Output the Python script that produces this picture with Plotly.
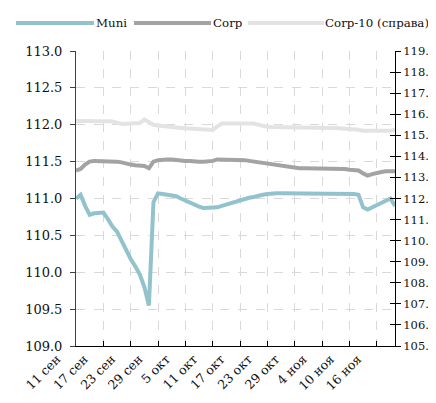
import pandas as pd
import plotly.graph_objects as go

# ---- data ----
start_date = "2013-09-11"
n_days = 71
dates = pd.date_range(start_date, periods=n_days, freq="D")

muni = [111.00, 111.05, 110.90, 110.78, 110.80, 110.80, 110.81, 110.72, 110.62, 110.55,
        110.42, 110.30, 110.18, 110.08, 109.97, 109.80, 109.55, 110.95, 111.07, 111.06,
        111.05, 111.04, 111.03, 111.00, 110.97, 110.94, 110.91, 110.89, 110.87, 110.87,
        110.87, 110.88, 110.90, 110.92, 110.94, 110.96, 110.97, 110.99, 111.01, 111.02,
        111.04, 111.05, 111.06, 111.07, 111.07, 111.07, 111.07, 111.07, 111.07, 111.07,
        111.07, 111.07, 111.07, 111.07, 111.07, 111.07, 111.07, 111.07, 111.07, 111.07,
        111.07, 111.06, 111.05, 110.88, 110.85, 110.88, 110.92, 110.95, 110.98, 111.00,
        110.90]

corp = [111.38, 111.40, 111.46, 111.50, 111.51, 111.51, 111.51, 111.51, 111.51, 111.50,
        111.49, 111.47, 111.46, 111.45, 111.44, 111.44, 111.41, 111.50, 111.52, 111.53,
        111.53, 111.53, 111.52, 111.52, 111.51, 111.51, 111.50, 111.50, 111.50, 111.50,
        111.51, 111.53, 111.53, 111.53, 111.53, 111.53, 111.53, 111.52, 111.51, 111.50,
        111.50, 111.48, 111.47, 111.46, 111.45, 111.44, 111.43, 111.42, 111.41, 111.41,
        111.41, 111.41, 111.41, 111.41, 111.41, 111.41, 111.41, 111.41, 111.40, 111.40,
        111.39, 111.39, 111.38, 111.34, 111.31, 111.33, 111.35, 111.36, 111.37, 111.37,
        111.37]

corp10 = [115.68, 115.69, 115.68, 115.68, 115.67, 115.68, 115.68, 115.67, 115.66, 115.60,
          115.54, 115.55, 115.56, 115.57, 115.58, 115.75, 115.62, 115.50, 115.46, 115.43,
          115.40, 115.38, 115.36, 115.35, 115.33, 115.31, 115.29, 115.27, 115.25, 115.24,
          115.25, 115.42, 115.56, 115.56, 115.56, 115.56, 115.56, 115.56, 115.56, 115.56,
          115.50, 115.43, 115.40, 115.39, 115.39, 115.39, 115.39, 115.39, 115.39, 115.39,
          115.39, 115.39, 115.38, 115.38, 115.38, 115.36, 115.35, 115.34, 115.33, 115.31,
          115.30, 115.28, 115.26, 115.22, 115.21, 115.21, 115.21, 115.21, 115.21, 115.21,
          115.26]

tick_dates = ["2013-09-11", "2013-09-17", "2013-09-23", "2013-09-29", "2013-10-05",
              "2013-10-11", "2013-10-17", "2013-10-23", "2013-10-29", "2013-11-04",
              "2013-11-10", "2013-11-16"]
tick_labels = ["11 сен", "17 сен", "23 сен", "29 сен", "5 окт", "11 окт", "17 окт",
               "23 окт", "29 окт", "4 ноя", "10 ноя", "16 ноя"]

series_names = ["Muni", "Corp", "Corp-10 (справа)"]
colors = ["#92C3CD", "#A3A3A3", "#E3E3E3"]

FONT = "DejaVu Serif"
TXT = "#111111"

fig = go.Figure()
fig.add_trace(go.Scatter(x=dates, y=muni, mode="lines", name=series_names[0],
                         line=dict(color=colors[0], width=4), yaxis="y"))
fig.add_trace(go.Scatter(x=dates, y=corp, mode="lines", name=series_names[1],
                         line=dict(color=colors[1], width=4), yaxis="y"))
fig.add_trace(go.Scatter(x=dates, y=corp10, mode="lines", name=series_names[2],
                         line=dict(color=colors[2], width=4), yaxis="y2"))

W, H = 436, 403
L, R, T, B = 68, 49, 43, 65
pw, ph = W - L - R, H - T - B

def px(x):
    return (x - L) / pw

def py(y):
    return (H - B - y) / ph

# manual legend (long line samples as in the reference)
legend_items = [(8, 86, 86), (126, 203, 203), (240, 316, 315)]
for (x0, x1, xt), name, col in zip(legend_items, series_names, colors):
    fig.add_shape(type="line", xref="paper", yref="paper",
                  x0=px(x0), x1=px(x1), y0=py(15), y1=py(15),
                  line=dict(color=col, width=4))
    fig.add_annotation(xref="paper", yref="paper", x=px(xt), y=py(15),
                       text=name, showarrow=False, xanchor="left", yanchor="middle",
                       font=dict(family=FONT, size=11.8, color=TXT))

fig.update_layout(
    width=W, height=H,
    margin=dict(l=L, r=R, t=T, b=B, autoexpand=False),
    paper_bgcolor="white", plot_bgcolor="white",
    showlegend=False,
    font=dict(family=FONT, size=13, color=TXT),
    xaxis=dict(
        type="date",
        range=[dates[0], dates[-1]],
        tickvals=tick_dates, ticktext=tick_labels, tickangle=-45,
        ticklabelshift=-19,
        showgrid=True, gridcolor="#D9D9D9", griddash="dash", gridwidth=1,
        showline=True, linecolor="#000000", linewidth=1,
        ticks="inside", ticklen=5, tickcolor="#000000",
        zeroline=False, automargin=False,
        tickfont=dict(family=FONT, size=12.5, color=TXT),
    ),
    yaxis=dict(
        range=[109, 113], dtick=0.5, tick0=109, tickformat=".1f",
        showgrid=True, gridcolor="#D9D9D9", griddash="dash", gridwidth=1,
        showline=True, linecolor="#404040", linewidth=1,
        ticks="outside", ticklen=5, tickcolor="#404040",
        ticklabelstandoff=5,
        zeroline=False, automargin=False,
        tickfont=dict(family=FONT, size=13, color=TXT),
    ),
    yaxis2=dict(
        range=[105, 119], dtick=1, tick0=105, tickformat=".1f",
        overlaying="y", side="right",
        showgrid=False,
        showline=True, linecolor="#000000", linewidth=1,
        ticks="outside", ticklen=5, tickcolor="#000000",
        ticklabelstandoff=0,
        zeroline=False, automargin=False,
        tickfont=dict(family=FONT, size=11.5, color=TXT),
    ),
    yaxis3=dict(
        range=[105, 119], dtick=1, tick0=105,
        overlaying="y", side="right", anchor="x",
        showgrid=False, showticklabels=False, showline=False,
        ticks="inside", ticklen=5, tickcolor="#000000",
        zeroline=False, automargin=False,
    ),
)
# invisible trace so the crossing-tick overlay axis renders
fig.add_trace(go.Scatter(x=[dates[0]], y=[None], yaxis="y3", showlegend=False,
                         hoverinfo="skip", mode="lines"))

fig.write_html("out.html")
